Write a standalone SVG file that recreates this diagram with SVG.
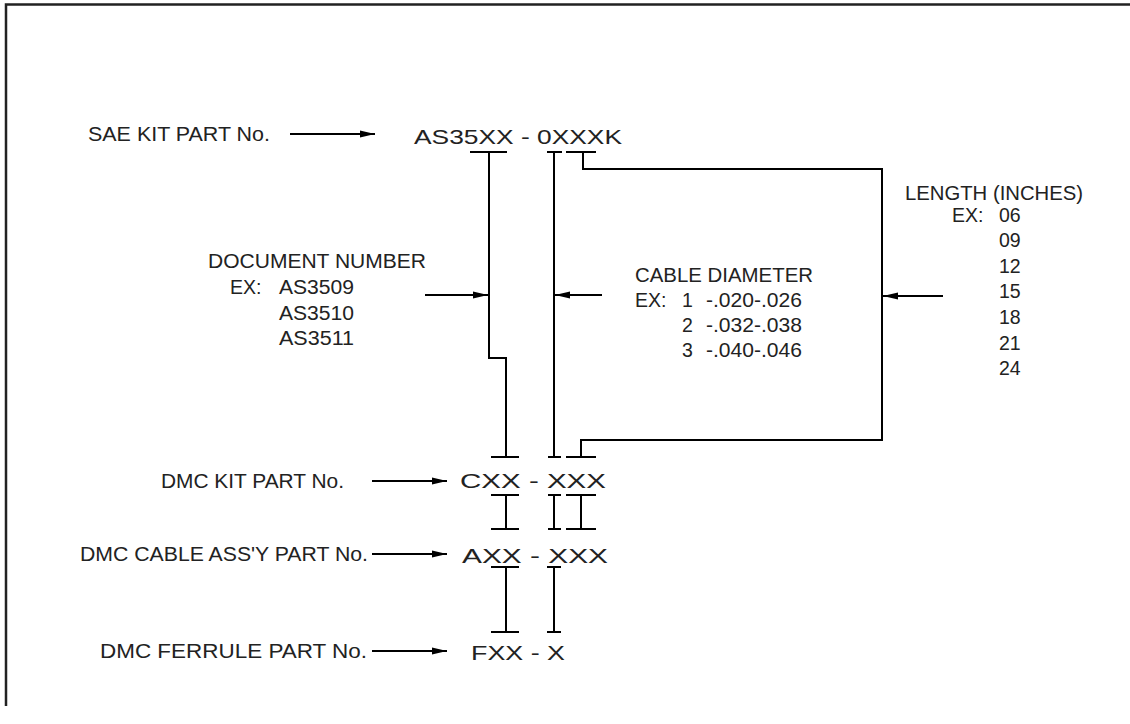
<svg xmlns="http://www.w3.org/2000/svg" width="1130" height="724" viewBox="0 0 1130 724">
<defs>
<style>
text{font-family:"Liberation Sans",Arial,sans-serif;fill:#222}
.lbl{font-size:19.5px}
.pn{font-size:21px}
.ln{fill:none;stroke:#000;stroke-width:2}
</style>
<marker id="ah" markerUnits="userSpaceOnUse" markerWidth="16" markerHeight="10" refX="15" refY="5" orient="auto">
<path d="M0,1.5 L15,5 L0,8.5 Z" fill="#000"/>
</marker>
</defs>
<rect width="1130" height="724" fill="#fff"/>
<path d="M6,706 V4.5 H1130" fill="none" stroke="#222" stroke-width="2.5"/>

<g id="sae">
<text class="lbl" x="88" y="141" textLength="182" lengthAdjust="spacingAndGlyphs">SAE KIT PART No.</text>
<text class="pn" x="414" y="144" textLength="208" lengthAdjust="spacingAndGlyphs">AS35XX - 0XXXK</text>
</g>
<g id="docnum">
<text class="lbl" x="208" y="268" textLength="218" lengthAdjust="spacingAndGlyphs">DOCUMENT NUMBER</text>
<text class="lbl" x="230" y="294">EX:</text>
<text class="lbl" x="279" y="294" textLength="75" lengthAdjust="spacingAndGlyphs">AS3509</text>
<text class="lbl" x="279" y="320" textLength="75" lengthAdjust="spacingAndGlyphs">AS3510</text>
<text class="lbl" x="279" y="345" textLength="75" lengthAdjust="spacingAndGlyphs">AS3511</text>
</g>
<g id="cable">
<text class="lbl" x="635" y="282" textLength="178" lengthAdjust="spacingAndGlyphs">CABLE DIAMETER</text>
<text class="lbl" x="635" y="307">EX:</text>
<text class="lbl" x="682" y="307">1</text>
<text class="lbl" x="706" y="307" textLength="96" lengthAdjust="spacingAndGlyphs">-.020-.026</text>
<text class="lbl" x="682" y="332">2</text>
<text class="lbl" x="706" y="332" textLength="96" lengthAdjust="spacingAndGlyphs">-.032-.038</text>
<text class="lbl" x="682" y="357">3</text>
<text class="lbl" x="706" y="357" textLength="96" lengthAdjust="spacingAndGlyphs">-.040-.046</text>
</g>
<g id="length">
<text class="lbl" x="905" y="200" textLength="178" lengthAdjust="spacingAndGlyphs">LENGTH (INCHES)</text>
<text class="lbl" x="952" y="222">EX:</text>
<text class="lbl" x="999" y="222">06</text>
<text class="lbl" x="999" y="247">09</text>
<text class="lbl" x="999" y="273">12</text>
<text class="lbl" x="999" y="298">15</text>
<text class="lbl" x="999" y="324">18</text>
<text class="lbl" x="999" y="350">21</text>
<text class="lbl" x="999" y="375">24</text>
</g>
<g id="dmckit">
<text class="lbl" x="161" y="488" textLength="183" lengthAdjust="spacingAndGlyphs">DMC KIT PART No.</text>
<text class="pn" x="460" y="488" textLength="146" lengthAdjust="spacingAndGlyphs">CXX - XXX</text>
</g>
<g id="dmccable">
<text class="lbl" x="80" y="561" textLength="288" lengthAdjust="spacingAndGlyphs">DMC CABLE ASS'Y PART No.</text>
<text class="pn" x="462" y="563" textLength="146" lengthAdjust="spacingAndGlyphs">AXX - XXX</text>
</g>
<g id="dmcferrule">
<text class="lbl" x="100" y="658" textLength="267" lengthAdjust="spacingAndGlyphs">DMC FERRULE PART No.</text>
<text class="pn" x="471" y="660" textLength="94" lengthAdjust="spacingAndGlyphs">FXX - X</text>
</g>

<g id="connectors" class="ln">
<path class="ln" d="M290,134 H375" marker-end="url(#ah)"/>
<path class="ln" d="M425,295 H488" marker-end="url(#ah)"/>
<path class="ln" d="M602,295 H555" marker-end="url(#ah)"/>
<path class="ln" d="M943,296 H883" marker-end="url(#ah)"/>
<path class="ln" d="M372,481 H447" marker-end="url(#ah)"/>
<path class="ln" d="M372,554 H447" marker-end="url(#ah)"/>
<path class="ln" d="M372,651 H447" marker-end="url(#ah)"/>

<path class="ln" d="M470,152 H507 M489,152 V358 H506 V457 M491,457 H519"/>
<path class="ln" d="M547,152 H562 M554,152 V457 M548,457 H561"/>
<path class="ln" d="M566,152 H596 M583,152 V169 H882 V440 H581 V457 M566,457 H596"/>

<path class="ln" d="M491,495 H519 M506,495 V529 M491,529 H519"/>
<path class="ln" d="M548,495 H561 M554,495 V529 M548,529 H561"/>
<path class="ln" d="M566,495 H596 M581,495 V529 M566,529 H596"/>

<path class="ln" d="M491,567 H519 M506,567 V632 M491,632 H519"/>
<path class="ln" d="M547,567 H561 M554,567 V632 M547,632 H561"/>
</g>
</svg>
